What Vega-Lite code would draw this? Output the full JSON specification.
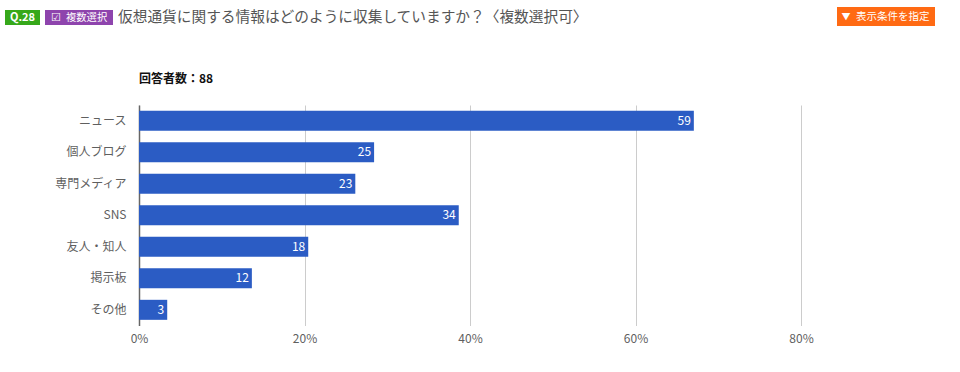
{
"$schema":"https://vega.github.io/schema/vega-lite/v6.json",
"autosize":{"type":"none"},
"padding":{"left":139,"top":105,"right":159,"bottom":46.5},
"background":"white",
"config":{"view":{"stroke":null},"font":"Noto Sans CJK JP"},
"width":662,"height":220.5,
"resolve":{"scale":{"x":"independent","y":"independent"},"axis":{"x":"independent","y":"independent"}},
"layer":[
{"data":{"values":[
 {"label":"ニュース","count":59,"pct":67.05},
 {"label":"個人ブログ","count":25,"pct":28.41},
 {"label":"専門メディア","count":23,"pct":26.14},
 {"label":"SNS","count":34,"pct":38.64},
 {"label":"友人・知人","count":18,"pct":20.45},
 {"label":"掲示板","count":12,"pct":13.64},
 {"label":"その他","count":3,"pct":3.41}]},
 "encoding":{
  "y":{"field":"label","type":"nominal","sort":null,"title":null,"scale":{"paddingInner":0.365,"paddingOuter":0.18},
    "axis":{"ticks":false,"grid":false,"domainColor":"#666666","domainWidth":1.5,"labelColor":"#5f5f5f","labelFontSize":12,"labelPadding":13,"labelLimit":130}},
  "x":{"field":"pct","type":"quantitative","title":null,"scale":{"domain":[0,80],"nice":false},
    "axis":{"values":[0,20,40,60,80],"labelExpr":"datum.value+'%'","labelFlush":false,"ticks":false,"domain":false,"grid":true,"gridColor":"#cccccc","labelColor":"#5f5f5f","labelFontSize":12,"labelPadding":8}}
 },
 "layer":[
  {"mark":{"type":"bar","color":"#2b5cc4"}},
  {"mark":{"type":"text","color":"white","fontSize":12,"align":"right","baseline":"middle","dx":-3},"encoding":{"text":{"field":"count","type":"quantitative"}}}
 ]},
{"data":{"values":[{"k":"header"}]},
 "layer":[
 {"mark":{"type":"rect","color":"#36a81a","clip":false},"encoding":{"x":{"datum":5,"type":"quantitative","scale":{"domain":[139,801],"nice":false,"zero":false},"axis":null},"x2":{"datum":40},"y":{"datum":10,"type":"quantitative","scale":{"domain":[325.5,105],"nice":false,"zero":false},"axis":null},"y2":{"datum":25}}},
 {"mark":{"type":"rect","color":"#8e44ad"},"encoding":{"x":{"datum":45,"type":"quantitative"},"x2":{"datum":113},"y":{"datum":10,"type":"quantitative"},"y2":{"datum":25}}},
 {"mark":{"type":"rect","color":"#ff6a13"},"encoding":{"x":{"datum":837,"type":"quantitative"},"x2":{"datum":935},"y":{"datum":7,"type":"quantitative"},"y2":{"datum":26}}},
 {"mark":{"type":"text","text":"Q.28","color":"white","fontSize":11,"fontWeight":"bold","align":"center","baseline":"middle"},"encoding":{"x":{"datum":22.5,"type":"quantitative"},"y":{"datum":17.5,"type":"quantitative"}}},
 {"mark":{"type":"text","text":"☑","color":"white","fontSize":11,"align":"center","baseline":"middle"},"encoding":{"x":{"datum":56,"type":"quantitative"},"y":{"datum":17.5,"type":"quantitative"}}},
 {"mark":{"type":"text","text":"複数選択","color":"white","fontSize":10.3,"align":"left","baseline":"middle"},"encoding":{"x":{"datum":66,"type":"quantitative"},"y":{"datum":17.5,"type":"quantitative"}}},
 {"mark":{"type":"text","text":"▼","color":"white","fontSize":9,"align":"center","baseline":"middle"},"encoding":{"x":{"datum":846,"type":"quantitative"},"y":{"datum":16.5,"type":"quantitative"}}},
 {"mark":{"type":"text","text":"表示条件を指定","color":"white","fontSize":10.5,"align":"left","baseline":"middle"},"encoding":{"x":{"datum":856,"type":"quantitative"},"y":{"datum":16.5,"type":"quantitative"}}},
 {"mark":{"type":"text","text":"仮想通貨に関する情報はどのように収集していますか？〈複数選択可〉","color":"#555555","fontSize":14.7,"align":"left","baseline":"middle"},"encoding":{"x":{"datum":118,"type":"quantitative"},"y":{"datum":17.5,"type":"quantitative"}}},
 {"mark":{"type":"text","text":"回答者数：88","color":"#111111","fontSize":12,"fontWeight":"bold","align":"left","baseline":"middle"},"encoding":{"x":{"datum":139,"type":"quantitative"},"y":{"datum":79,"type":"quantitative"}}}
 ]}
]}
